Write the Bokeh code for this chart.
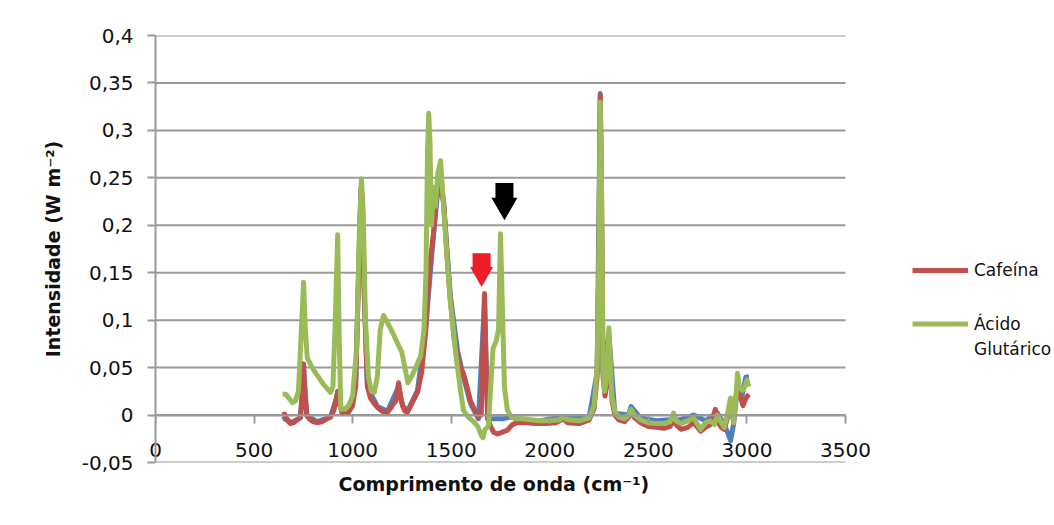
from bokeh.plotting import figure
from bokeh.models import (FixedTicker, CustomJSTickFormatter, Legend, LegendItem,
                          LinearAxis, Range1d, Title)
from bokeh.embed import file_html
from bokeh.resources import INLINE

# ---------------- data ----------------
blue_x = [645, 660, 685, 735, 751, 768, 821, 888, 924, 948, 980, 1015, 1042, 1060, 1075,
          1126, 1177, 1233, 1253, 1278, 1329, 1370, 1410, 1436, 1461, 1496, 1532, 1562,
          1598, 1638, 1669, 1685, 1720, 1760, 1800, 1850, 1950, 2070, 2200, 2240, 2256,
          2270, 2300, 2330, 2400, 2412, 2460, 2540, 2610, 2660, 2730, 2790, 2850, 2885,
          2905, 2917, 2932, 2952, 2975, 2995, 3010]
blue_y = [-0.005, -0.003, -0.008, -0.003, 0.05, -0.001, -0.007, -0.002, 0.022, 0.002,
          0.004, 0.03, 0.235, 0.12, 0.03, 0.009, 0.004, 0.03, 0.01, 0.004, 0.026, 0.09,
          0.19, 0.245, 0.225, 0.125, 0.068, 0.04, 0.012, -0.004, 0.12, -0.004, -0.004,
          -0.004, -0.002, -0.005, -0.006, -0.002, -0.002, 0.045, 0.339, 0.045, 0.085,
          0.002, 0.0, 0.009, -0.003, -0.006, -0.005, -0.005, 0.0, -0.006, 0.002, -0.01,
          -0.02, -0.027, -0.01, 0.03, 0.02, 0.04, 0.04]

cafeina_x = [645, 655, 670, 685, 700, 720, 735, 745, 751, 758, 768, 780, 800, 821, 845,
             870, 888, 905, 915, 924, 935, 948, 965, 980, 1000, 1015, 1030, 1042, 1050,
             1060, 1075, 1090, 1110, 1126, 1150, 1177, 1195, 1207, 1220, 1233, 1243, 1253,
             1265, 1278, 1300, 1329, 1350, 1370, 1385, 1395, 1410, 1425, 1436, 1447, 1461,
             1478, 1496, 1515, 1532, 1547, 1562, 1580, 1598, 1620, 1638, 1652, 1660, 1669,
             1676, 1685, 1700, 1715, 1735, 1760, 1785, 1810, 1835, 1880, 1930, 1980, 2030,
             2070, 2090, 2150, 2200, 2225, 2240, 2248, 2256, 2262, 2270, 2280, 2292, 2300,
             2307, 2316, 2330, 2350, 2380, 2400, 2412, 2430, 2460, 2500, 2540, 2580, 2610,
             2628, 2645, 2665, 2700, 2730, 2750, 2765, 2790, 2815, 2840, 2855, 2870, 2885,
             2900, 2917, 2932, 2945, 2955, 2965, 2980, 2995, 3010]
cafeina_y = [0.0, 0.001, -0.006, -0.009, -0.008, -0.005, -0.002, 0.02, 0.054, 0.02, 0.0,
             -0.004, -0.007, -0.008, -0.007, -0.004, -0.002, 0.005, 0.015, 0.025, 0.01,
             0.002, 0.002, 0.003, 0.01, 0.03, 0.15, 0.24, 0.23, 0.12, 0.03, 0.018, 0.012,
             0.008, 0.004, 0.003, 0.008, 0.012, 0.015, 0.034, 0.02, 0.01, 0.004, 0.003,
             0.012, 0.024, 0.045, 0.087, 0.14, 0.165, 0.19, 0.23, 0.25, 0.245, 0.226, 0.17,
             0.121, 0.08, 0.061, 0.05, 0.044, 0.03, 0.015, 0.005, -0.002, 0.0, 0.06, 0.128,
             0.06, -0.004, -0.012, -0.018, -0.02, -0.018, -0.016, -0.01, -0.008, -0.008,
             -0.009, -0.009, -0.008, -0.004, -0.008, -0.009, -0.005, 0.007, 0.04, 0.15,
             0.337, 0.25, 0.04, 0.02, 0.035, 0.08, 0.05, 0.015, 0.0, -0.005, -0.007, -0.002,
             0.004, -0.003, -0.008, -0.012, -0.013, -0.014, -0.012, -0.006, -0.011, -0.015,
             -0.013, -0.008, -0.013, -0.017, -0.013, -0.01, 0.006, -0.008, -0.013, -0.015,
             -0.004, 0.008, -0.005, 0.02, 0.035, 0.02, 0.01, 0.018, 0.022]

glutarico_x = [645, 660, 680, 695, 710, 725, 740, 751, 760, 770, 790, 810, 827, 850, 870,
               888, 900, 912, 924, 932, 940, 960, 980, 1000, 1020, 1035, 1045, 1055, 1065,
               1080, 1095, 1110, 1125, 1140, 1157, 1170, 1185, 1205, 1227, 1250, 1265, 1280,
               1295, 1320, 1345, 1362, 1372, 1380, 1386, 1392, 1400, 1410, 1420, 1432, 1446,
               1455, 1468, 1481, 1495, 1506, 1520, 1532, 1548, 1562, 1590, 1613, 1635, 1650,
               1660, 1672, 1689, 1700, 1712, 1728, 1740, 1750, 1760, 1770, 1785, 1805, 1830,
               1860, 1900, 1950, 2000, 2050, 2070, 2090, 2150, 2200, 2225, 2240, 2248, 2256,
               2262, 2270, 2278, 2290, 2300, 2306, 2315, 2330, 2350, 2380, 2400, 2412, 2430,
               2460, 2500, 2540, 2580, 2610, 2628, 2640, 2665, 2700, 2730, 2750, 2765, 2790,
               2815, 2835, 2850, 2870, 2885, 2900, 2917, 2932, 2945, 2952, 2962, 2977, 2990,
               3000, 3010]
glutarico_y = [0.022, 0.022, 0.017, 0.013, 0.015, 0.025, 0.09, 0.14, 0.09, 0.06, 0.052,
               0.045, 0.04, 0.033, 0.028, 0.024, 0.03, 0.1, 0.19, 0.08, 0.006, 0.006, 0.01,
               0.02, 0.07, 0.2, 0.249, 0.2, 0.1, 0.04, 0.025, 0.024, 0.04, 0.09, 0.105, 0.1,
               0.094, 0.086, 0.076, 0.066, 0.05, 0.034, 0.039, 0.05, 0.062, 0.09, 0.15, 0.28,
               0.318, 0.29, 0.2, 0.24, 0.22, 0.255, 0.268, 0.24, 0.2, 0.16, 0.12, 0.1, 0.07,
               0.05, 0.025, 0.005, -0.003, -0.007, -0.012, -0.02, -0.024, -0.015, -0.012,
               0.03, 0.07, 0.078, 0.09, 0.191, 0.11, 0.03, 0.005, -0.002, -0.004, -0.004,
               -0.005, -0.006, -0.006, -0.005, -0.002, -0.005, -0.006, -0.003, 0.01, 0.05,
               0.15, 0.33, 0.25, 0.05, 0.025, 0.04, 0.092, 0.06, 0.02, 0.004, -0.002, -0.004,
               0.0, 0.006, 0.0, -0.005, -0.008, -0.009, -0.009, -0.007, 0.002, -0.006, -0.009,
               -0.006, -0.003, -0.01, -0.015, -0.008, -0.006, -0.01, 0.0, -0.008, -0.013, 0.0,
               0.018, -0.008, 0.02, 0.044, 0.03, 0.026, 0.03, 0.037, 0.03]

# annotation arrows (position of each marker in data units)
arrow_x = [1654, 1770]
arrow_y = [0.150, 0.225]

x_ticks = [0, 500, 1000, 1500, 2000, 2500, 3000, 3500]
y_ticks = [-0.05, 0.0, 0.05, 0.1, 0.15, 0.2, 0.25, 0.3, 0.35, 0.4]

label_cafeina = "Cafeína"
label_glut_1 = "Ácido"
label_glut_2 = "Glutárico"
x_title = "Comprimento de onda (cm\u207b\u00b9)"
y_title = "Intensidade (W m\u207b\u00b2)"

# ---------------- figure ----------------
FONT = "DejaVu Sans"
GRID = "#9a9a9a"
TXT = "#111111"

W, H = 1054, 525
LEFT, TOP, BOTTOM = 155, 35, 63
PLOT_W = 690                        # width of the drawn axis area
x_max = x_ticks[-1]
x_end = x_max * (W - LEFT) / PLOT_W  # frame continues to the right for the legend

p = figure(width=W, height=H, x_range=Range1d(0, x_end), y_range=Range1d(-0.05, 0.4),
           output_backend="svg", toolbar_location=None,
           min_border_left=LEFT, min_border_right=0, min_border_top=TOP,
           min_border_bottom=BOTTOM)
p.outline_line_color = None
p.background_fill_color = "white"
p.border_fill_color = "white"

p.xgrid.visible = False
p.ygrid.visible = False
# horizontal grid lines, only across the axis area
p.segment(x0=[0] * len(y_ticks), y0=y_ticks, x1=[x_max] * len(y_ticks), y1=y_ticks,
          line_color=GRID, line_width=2)

# y axis
ya = p.yaxis[0]
ya.ticker = FixedTicker(ticks=y_ticks)
ya.formatter = CustomJSTickFormatter(
    code="var s = (Math.round(tick*100)/100).toString(); return s.replace('.', ',');")
ya.axis_line_color = GRID
ya.axis_line_width = 2
ya.major_tick_line_color = GRID
ya.major_tick_line_width = 2
ya.major_tick_out = 8
ya.major_tick_in = 0
ya.minor_tick_line_color = None
ya.major_label_text_font = FONT
ya.major_label_text_font_size = "20px"
ya.major_label_text_color = TXT
ya.major_label_standoff = 14
ya.axis_label = y_title
ya.axis_label_text_font = FONT
ya.axis_label_text_font_style = "bold"
ya.axis_label_text_font_size = "19px"
ya.axis_label_text_color = TXT
ya.axis_label_standoff = 15

# x axis labels (bottom panel, drawn up into the plot area)
xa = p.xaxis[0]
xa.bounds = (0, x_max)
xa.ticker = FixedTicker(ticks=x_ticks)
xa.axis_line_color = None
xa.major_tick_line_color = None
xa.major_tick_out = 0
xa.major_tick_in = 0
xa.minor_tick_line_color = None
xa.major_label_text_font = FONT
xa.major_label_text_font_size = "20px"
xa.major_label_text_color = TXT
xa.major_label_standoff = -20

# x axis line and ticks, crossing at y = 0
xa0 = LinearAxis(fixed_location=0, bounds=(0, x_max), ticker=FixedTicker(ticks=x_ticks),
                 axis_line_color=GRID, axis_line_width=2,
                 major_tick_line_color=GRID, major_tick_line_width=2,
                 major_tick_out=8, major_tick_in=0, minor_tick_line_color=None,
                 major_label_text_color=None)
p.add_layout(xa0, "below")

# x axis title, centred under the axis area
xt = Title(text=x_title, align="left", offset=183, standoff=16, text_font=FONT,
           text_font_style="bold", text_font_size="19px", text_color=TXT)
p.add_layout(xt, "below")

# series
r_blue = p.line(blue_x, blue_y, line_color="#4F81BD", line_width=5, line_join="round")
r_caf = p.line(cafeina_x, cafeina_y, line_color="#C0504D", line_width=5, line_join="round")
r_glu = p.line(glutarico_x, glutarico_y, line_color="#9BBB59", line_width=5, line_join="round")
r_blank = p.line([], [], line_alpha=0)

# arrows
p.scatter(arrow_x[:1], [arrow_y[0] + 0.011], marker="square", size=18,
          fill_color="#EE1C25", line_color=None)
p.scatter(arrow_x[:1], [arrow_y[0] - 0.001], marker="inverted_triangle", size=23,
          fill_color="#EE1C25", line_color=None)
p.scatter(arrow_x[1:], [arrow_y[1] + 0.010], marker="square", size=18,
          fill_color="black", line_color=None)
p.scatter(arrow_x[1:], [arrow_y[1] - 0.004], marker="inverted_triangle", size=26,
          fill_color="black", line_color=None)


def make_legend(items, loc, h):
    return Legend(items=items, location=loc, orientation="vertical",
                  padding=0, margin=0, spacing=0, border_line_color=None,
                  background_fill_alpha=0, glyph_width=56, glyph_height=h,
                  label_height=h, label_standoff=6,
                  label_text_font=FONT, label_text_font_size="17px",
                  label_text_color=TXT)


leg1 = make_legend([LegendItem(label=label_cafeina, renderers=[r_caf])], (757, 182), 20)
leg2 = make_legend([LegendItem(label=label_glut_1, renderers=[r_glu]),
                    LegendItem(label=label_glut_2, renderers=[r_blank])], (757, 101), 25)
p.add_layout(leg1)
p.add_layout(leg2)

open("out.html", "w").write(file_html(p, INLINE))
